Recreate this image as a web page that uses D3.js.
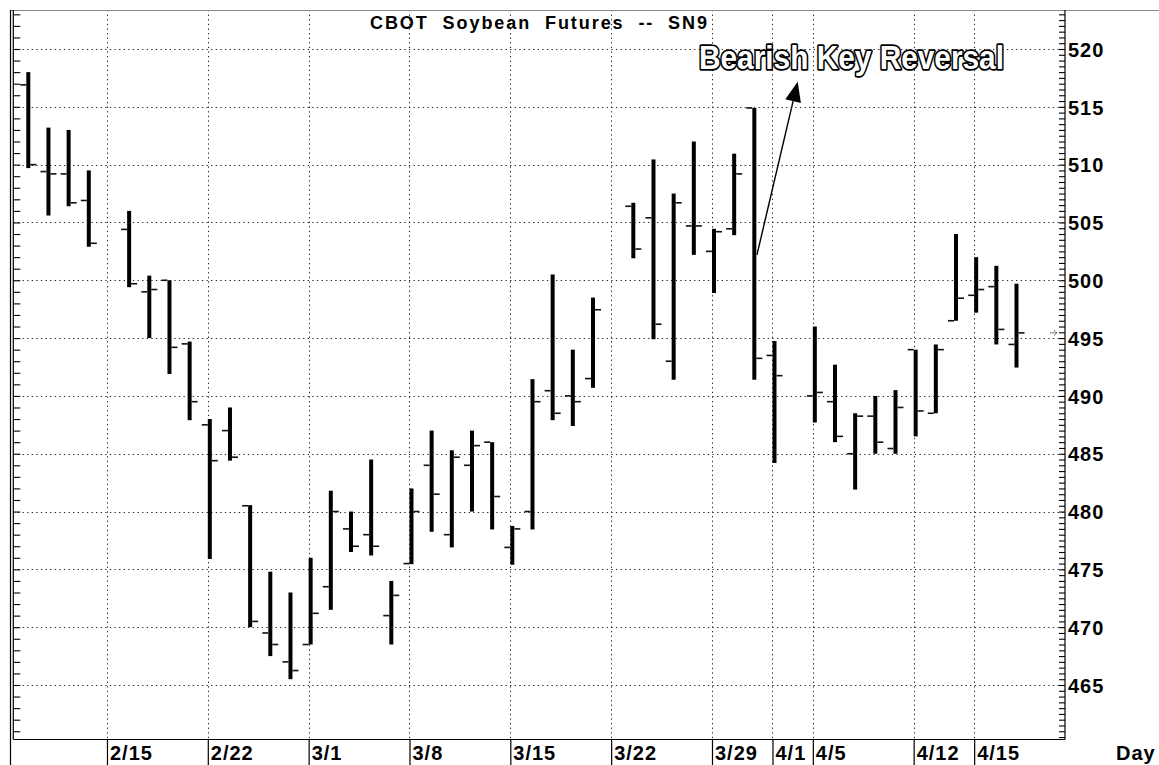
<!DOCTYPE html>
<html><head><meta charset="utf-8">
<script src="https://cdn.jsdelivr.net/npm/d3@7"></script>
<style>body{margin:0;background:#fff}svg{display:block}</style>
</head><body><svg id="c" width="1159" height="765"></svg>
<script>
// trading-day slots (weekdays; holidays / missing sessions have null values)
const slotDates = ["2/9","2/10","2/11","2/12","2/15","2/16","2/17","2/18","2/19","2/22","2/23","2/24","2/25","2/26","3/1","3/2","3/3","3/4","3/5","3/8","3/9","3/10","3/11","3/12","3/15","3/16","3/17","3/18","3/19","3/22","3/23","3/24","3/25","3/26","3/29","3/30","3/31","4/1","4/2","4/5","4/6","4/7","4/8","4/9","4/12","4/13","4/14","4/15","4/16","4/19"];
const openV  = [516.9,509.4,509.2,506.9,null,504.4,499.0,500.0,494.5,487.5,487.0,480.5,469.5,467.0,468.5,473.5,478.5,478.0,471.0,475.5,484.0,478.0,484.0,486.0,476.9,480.0,490.45,490.0,491.5,null,506.4,505.4,493.0,504.7,502.5,504.45,514.9,493.5,null,490.0,489.5,485.0,488.25,485.45,494.0,488.5,496.5,498.7,499.45,494.45];
const highV  = [518.0,513.2,513.0,509.5,null,506.0,500.4,500.0,494.7,488.0,489.0,480.55,474.8,473.0,476.0,481.8,480.0,484.5,474.0,482.0,487.0,485.3,487.0,486.0,478.75,491.45,500.5,494.0,498.5,null,506.7,510.45,507.5,512.0,504.45,510.95,514.9,494.75,null,496.0,492.7,488.5,490.0,490.5,494.0,494.45,504.0,502.0,501.25,499.7];
const lowV   = [509.7,505.6,506.4,502.9,null,499.4,495.0,491.9,487.9,475.9,484.4,470.0,467.5,465.5,468.5,471.5,476.5,476.2,468.5,475.45,478.25,476.9,480.0,478.45,475.4,478.45,487.9,487.4,490.7,null,501.9,494.9,491.4,502.2,498.9,503.9,491.4,484.2,null,487.7,486.0,481.9,485.0,485.0,486.5,488.5,496.5,497.2,494.45,492.45];
const closeV = [510.0,509.2,506.7,503.2,null,499.7,499.2,494.2,489.5,484.4,484.7,470.5,468.5,466.25,471.2,480.0,477.0,477.0,472.75,480.0,481.5,484.7,485.7,481.3,478.5,489.5,488.5,489.5,497.45,null,502.7,496.2,506.7,504.7,504.2,509.2,493.25,491.75,null,490.3,486.5,488.25,486.0,489.0,488.7,494.0,498.45,499.2,495.75,495.45];
const dateLabels = ["2/15","2/22","3/1","3/8","3/15","3/22","3/29","4/1","4/5","4/12","4/15"];
const priceTicks = [465,470,475,480,485,490,495,500,505,510,515,520];
const titleText = "CBOT  Soybean  Futures  --  SN9";
const noteText = "Bearish Key Reversal";
const noteFrom = {i: 36.13, v: 502.2};
const noteTo   = {i: 38.15, v: 517.17};

const W = 1159, H = 765;
const L = 13.3, R = 1065, T = 10, B = 739.5;
const x  = d3.scaleLinear().domain([0, 49]).range([28.3, 1016.5]);   // bar centres
const xg = d3.scaleLinear().domain([0, 49]).range([26.3, 1014.5]);   // grid / label lines
const y  = d3.scaleLinear().domain([465, 520]).range([685, 49]);
const yMin = y.invert(B), yMax = y.invert(T);

const bars = slotDates.map((d, i) => ({i, d, o: openV[i], h: highV[i], l: lowV[i], c: closeV[i]}))
  .filter(b => b.h != null);

const svg = d3.select("#c");
svg.append("rect").attr("width", W).attr("height", H).attr("fill", "#fff");

const FONT = "'Liberation Sans', Arial, sans-serif";

// horizontal dotted grid
svg.append("g").selectAll("line").data(priceTicks).join("line")
  .attr("x1", L).attr("x2", R)
  .attr("y1", d => Math.round(y(d)) + 0.5).attr("y2", d => Math.round(y(d)) + 0.5)
  .attr("stroke", "#222").attr("stroke-width", 1).attr("stroke-dasharray", "1.3,3.3");

// vertical dotted grid
const labelIdx = dateLabels.map(s => slotDates.indexOf(s));
svg.append("g").selectAll("line").data(labelIdx).join("line")
  .attr("x1", d => Math.round(xg(d)) + 0.5).attr("x2", d => Math.round(xg(d)) + 0.5)
  .attr("y1", T).attr("y2", B)
  .attr("stroke", "#222").attr("stroke-width", 1).attr("stroke-dasharray", "1.3,3.3");

// frame lines
svg.append("line").attr("x1", 10).attr("x2", W).attr("y1", 10.5).attr("y2", 10.5).attr("stroke", "#8a8a8a").attr("stroke-width", 1);
svg.append("line").attr("x1", 10.5).attr("x2", 10.5).attr("y1", 10).attr("y2", H).attr("stroke", "#000").attr("stroke-width", 1.2);
svg.append("line").attr("x1", L).attr("x2", L).attr("y1", 10).attr("y2", B).attr("stroke", "#000").attr("stroke-width", 1.2);
svg.append("line").attr("x1", L).attr("x2", R).attr("y1", B).attr("y2", B).attr("stroke", "#000").attr("stroke-width", 1.2);
svg.append("line").attr("x1", R).attr("x2", R).attr("y1", 10).attr("y2", B).attr("stroke", "#000").attr("stroke-width", 1.2);

// left minor ticks (every 1)
const leftTicks = d3.range(Math.ceil(yMin), Math.floor(yMax) + 1, 1);
const la = svg.append("g").attr("transform", `translate(${L},0)`)
  .call(d3.axisRight(y).tickValues(leftTicks).tickSize(7).tickSizeOuter(0).tickFormat(""));
la.select(".domain").remove();
la.selectAll("line").attr("stroke", "#000").attr("stroke-width", 1.1);

// right minor ticks (every 0.5)
const rightTicks = d3.range(Math.ceil(yMin * 2) / 2, yMax, 0.5);
const ra = svg.append("g").attr("transform", `translate(${R},0)`)
  .call(d3.axisLeft(y).tickValues(rightTicks).tickSize(6).tickSizeOuter(0).tickFormat(""));
ra.select(".domain").remove();
ra.selectAll("line").attr("stroke", "#000").attr("stroke-width", 1.1);

// right labels
const rl = svg.append("g").attr("transform", `translate(${R},0)`)
  .call(d3.axisRight(y).tickValues(priceTicks).tickSize(0).tickPadding(3).tickFormat(d3.format("d")));
rl.select(".domain").remove();
rl.selectAll("text").attr("font-family", FONT).attr("font-weight", "bold").attr("font-size", 20)
  .attr("letter-spacing", 1).attr("fill", "#000").attr("dy", "0.36em");

// bottom date separators + labels
const ba = svg.append("g").attr("transform", `translate(0,${B})`)
  .call(d3.axisBottom(xg).tickValues(labelIdx).tickSize(H - B).tickSizeOuter(0).tickFormat(i => slotDates[i]));
ba.select(".domain").remove();
ba.selectAll("line").attr("stroke", "#000").attr("stroke-width", 1.2);
ba.selectAll("text").attr("font-family", FONT).attr("font-weight", "bold").attr("font-size", 20)
  .attr("letter-spacing", 1).attr("fill", "#000").attr("text-anchor", "start")
  .attr("x", 2.5).attr("y", 20).attr("dy", 0);

svg.append("text").attr("x", 1116).attr("y", B + 20).text("Day")
  .attr("font-family", FONT).attr("font-weight", "bold").attr("font-size", 20).attr("letter-spacing", 1);

// title
svg.append("text").attr("x", 370).attr("y", 28.5).text(titleText)
  .style("white-space", "pre").attr("textLength", 337).attr("lengthAdjust", "spacing")
  .attr("font-family", FONT).attr("font-weight", "bold").attr("font-size", 18).attr("fill", "#000");

// OHLC bars
const g = svg.append("g");
g.selectAll("rect.hl").data(bars).join("rect").attr("class", "hl")
  .attr("x", d => x(d.i) - 2).attr("width", 4)
  .attr("y", d => y(d.h)).attr("height", d => y(d.l) - y(d.h)).attr("fill", "#000");
g.selectAll("rect.op").data(bars).join("rect").attr("class", "op")
  .attr("x", d => x(d.i) - 8).attr("width", 6)
  .attr("y", d => y(d.o) - 0.8).attr("height", 1.6).attr("fill", "#111");
g.selectAll("rect.cl").data(bars).join("rect").attr("class", "cl")
  .attr("x", d => x(d.i) + 2).attr("width", 6)
  .attr("y", d => y(d.c) - 0.8).attr("height", 1.6).attr("fill", "#111");

// last-price marker
const last = bars[bars.length - 1];
const ly = y(last.c);
svg.append("path")
  .attr("d", `M${R - 15},${ly} L${R - 8},${ly} M${R - 11},${ly - 2.5} L${R - 8},${ly} L${R - 11},${ly + 2.5}`)
  .attr("stroke", "#333").attr("stroke-width", 0.9).attr("fill", "none").attr("stroke-dasharray", "1.5,0.8");

// annotation arrow
const x0 = x(noteFrom.i), y0 = y(noteFrom.v), x1 = x(noteTo.i), y1 = y(noteTo.v);
const len = Math.hypot(x1 - x0, y1 - y0), ux = (x1 - x0) / len, uy = (y1 - y0) / len;
const hl = 20, hw = 8;
const bx = x1 - ux * hl, by = y1 - uy * hl;
svg.append("line").attr("x1", x0).attr("y1", y0).attr("x2", bx).attr("y2", by)
  .attr("stroke", "#000").attr("stroke-width", 1.4);
svg.append("polygon")
  .attr("points", [[x1, y1], [bx - uy * hw, by + ux * hw], [bx + uy * hw, by - ux * hw]].map(p => p.join(",")).join(" "))
  .attr("fill", "#000");

// annotation text (outlined: black outline outside a white glyph)
svg.append("text").attr("x", 699).attr("y", 68.5).text(noteText)
  .attr("textLength", 305).attr("lengthAdjust", "spacingAndGlyphs")
  .attr("font-family", FONT).attr("font-weight", "bold").attr("font-size", 34)
  .attr("fill", "#fff").attr("stroke", "#000").attr("stroke-width", 3.6).attr("stroke-linejoin", "round")
  .style("paint-order", "stroke");
</script></body></html>
